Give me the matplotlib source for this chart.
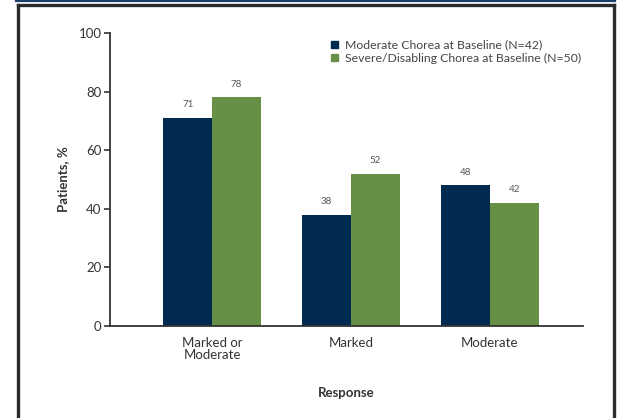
import numpy as np
import matplotlib.pyplot as plt
from matplotlib.lines import Line2D
from matplotlib.patches import Patch

plt.rcParams['font.family'] = ['Lato', 'DejaVu Sans']

categories = ["Marked or\nModerate", "Marked", "Moderate"]
moderate = [71, 38, 48]
severe = [78, 52, 42]
series_names = ["Moderate Chorea at Baseline (N=42)",
                "Severe/Disabling Chorea at Baseline (N=50)"]
yticks = [0, 20, 40, 60, 80, 100]

navy = "#002a50"
green = "#679046"
text_col = "#333333"

fig = plt.figure(figsize=(6.28, 4.18), dpi=100)
ax = fig.add_axes([0.1752, 0.22, 0.7531, 0.701])

x = np.arange(len(categories))
w = 0.35
b1 = ax.bar(x - w / 2, moderate, w, color=navy)
b2 = ax.bar(x + w / 2, severe, w, color=green)

for bars, vals in [(b1, moderate), (b2, severe)]:
    for bar, v in zip(bars, vals):
        ax.text(bar.get_x() + bar.get_width() / 2, v + 3, str(v),
                ha="center", va="bottom", fontsize=7, color="#555555")

ax.set_xlim(-0.734, 2.67)
ax.set_ylim(0, 100)
ax.set_yticks(yticks)
ax.set_xticks(x)
ax.set_xticklabels(categories, fontsize=9.5, color=text_col, linespacing=0.95)
ax.tick_params(axis="y", labelsize=9.5, labelcolor=text_col, length=4, width=1.2,
               color="#333333", pad=2)
ax.tick_params(axis="x", length=0, pad=8)
for s in ["top", "right"]:
    ax.spines[s].set_visible(False)
for s in ["left", "bottom"]:
    ax.spines[s].set_color("#333333")
    ax.spines[s].set_linewidth(1.3)

ax.set_ylabel("Patients, %", fontsize=9.5, fontweight="bold", color=text_col, labelpad=7)
ax.set_xlabel("Response", fontsize=9.5, fontweight="bold", color=text_col, labelpad=19)

handles = [Patch(color=navy), Patch(color=green)]
ax.legend(handles, series_names, loc="upper left", bbox_to_anchor=(0.445, 1.015),
          frameon=False, fontsize=8.8, handlelength=0.55, handleheight=0.55,
          handletextpad=0.55, labelspacing=0.2, labelcolor="#444444")

# outer frame
fig.add_artist(Line2D([0.026, 0.979], [0.998, 0.998], color="#1d3f6e", lw=1.6))
fig.add_artist(Line2D([0.0279, 0.0279], [0, 0.987], color="#2b2b2b", lw=2.4))
fig.add_artist(Line2D([0.9775, 0.9775], [0, 0.987], color="#2b2b2b", lw=2.4))
fig.add_artist(Line2D([0.0279, 0.9775], [0.987, 0.987], color="#2b2b2b", lw=2.4))

fig.savefig("out.png", dpi=100)
